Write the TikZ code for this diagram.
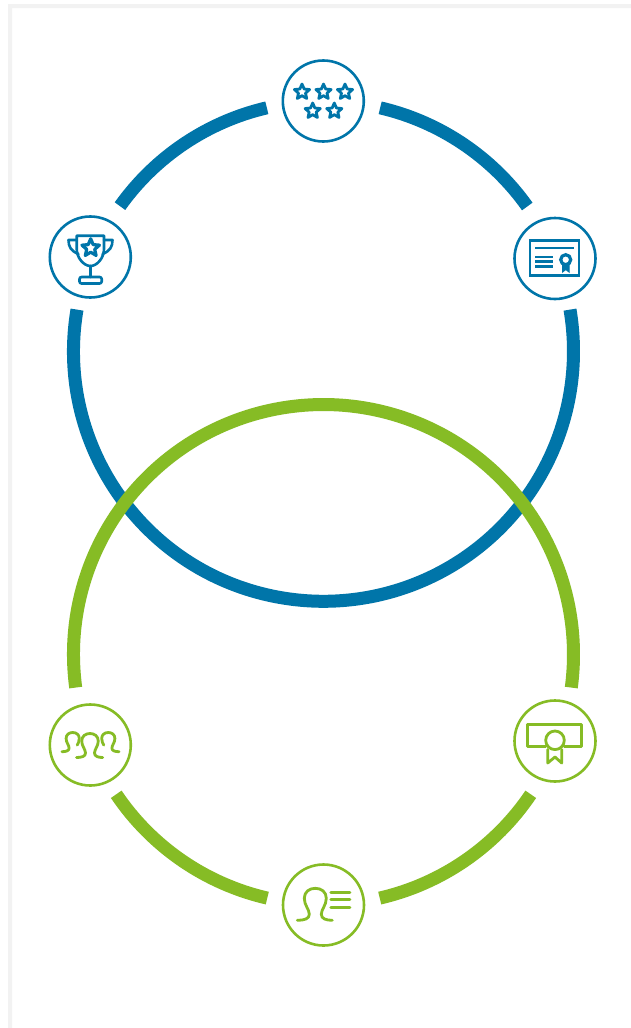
\documentclass[tikz,border=0pt]{standalone}
\definecolor{bluec}{HTML}{0075A9}
\definecolor{greenc}{HTML}{86BC25}
\definecolor{edgec}{HTML}{F2F2F2}
\tikzset{
  x=1pt,y=-1pt,
  ringline/.style={line width=13pt,line cap=butt},
  badge/.style={circle,draw=#1,fill=white,line width=2.6pt,minimum size=81pt,inner sep=0pt},
  ico/.style={line width=2.8pt,line join=round,line cap=round},
  starpic/.pic={\draw[ico] (-90:8) -- (-54:3.7) -- (-18:8) -- (18:3.7) -- (54:8) -- (90:3.7) -- (126:8) -- (162:3.7) -- (198:8) -- (234:3.7) -- cycle;},
  personpic/.pic={\draw[ico] (-18,32) .. controls (-11,32) and (-6,30.5) .. (-6,26) .. controls (-6,21) and (-11,17) .. (-11,10) .. controls (-11,3.5) and (-6,0) .. (0,0) .. controls (6,0) and (11,3.5) .. (11,10) .. controls (11,17) and (6,21) .. (6,26) .. controls (6,30.5) and (11,32) .. (17,32);},
  sidepic/.pic={\draw[ico] (-18,32) .. controls (-11,32) and (-6,30.5) .. (-6,26) .. controls (-6,21) and (-11,17) .. (-11,10) .. controls (-11,3.5) and (-6,0) .. (0,0) .. controls (6,0) and (11,3.5) .. (11,10) .. controls (11,15) and (9,18) .. (7.5,21);}
}
\begin{document}
\begin{tikzpicture}
\useasboundingbox (0,0) rectangle (631,1028);
\fill[white] (0,0) rectangle (631,1028);
\fill[edgec] (8,1028) -- (8,4) -- (631,4) -- (631,8) -- (12,8) -- (12,1028) -- cycle;
% blue ring
\coordinate (bc) at (323.5,351.3);
\draw[ringline,bluec] ([shift={(-144.5:250)}]bc) arc[start angle=-144.5,end angle=-103.1,radius=250];
\draw[ringline,bluec] ([shift={(-76.9:250)}]bc) arc[start angle=-76.9,end angle=-35.4,radius=250];
\draw[ringline,bluec] ([shift={(189.6:250)}]bc) arc[start angle=189.6,end angle=-9.6,radius=250];
% green ring
\coordinate (gc) at (323.5,654.5);
\draw[ringline,greenc] ([shift={(172.4:250)}]gc) arc[start angle=172.4,end angle=367.6,radius=250];
\draw[ringline,greenc] ([shift={(146:250)}]gc) arc[start angle=146,end angle=103,radius=250];
\draw[ringline,greenc] ([shift={(77:250)}]gc) arc[start angle=77,end angle=34,radius=250];
% badges
\node[badge=bluec] (stars) at (323.3,101) {};
\node[badge=bluec] (cup) at (90.3,257) {};
\node[badge=bluec] (cert) at (555,258.5) {};
\node[badge=greenc] (team) at (90.3,745) {};
\node[badge=greenc] (diploma) at (555,741) {};
\node[badge=greenc] (profile) at (323.5,905) {};
% stars icon
\foreach \px/\py in {302/92,323.5/92,345/92,312.7/111,334.3/111}
  \pic[bluec] at (\px,\py) {starpic};
% trophy icon
\begin{scope}[bluec,line width=2.6pt,line join=round,line cap=round]
\draw (76.7,235.7) -- (104,235.7) -- (104,249) .. controls (104,258) and (97,266) .. (90.5,266) .. controls (84,266) and (76.7,258) .. (76.7,249) -- cycle;
\draw (76.7,240) -- (68.5,240) .. controls (68.5,247) and (71,251) .. (78.5,254);
\draw (104,240) -- (112.5,240) .. controls (112.5,247) and (110,251) .. (102.5,254);
\draw (90.5,266) -- (90.5,277);
\draw[rounded corners=2pt] (79.5,277) rectangle (101.7,283.5);
\begin{scope}[shift={(90.7,248)}]
\draw[line width=3.2pt] (-90:9.2) -- (-54:4.2) -- (-18:9.2) -- (18:4.2) -- (54:9.2) -- (90:4.2) -- (126:9.2) -- (162:4.2) -- (198:9.2) -- (234:4.2) -- cycle;
\end{scope}
\end{scope}
% certificate icon
\begin{scope}[bluec,line width=2.8pt]
\draw (530,240.7) rectangle (579,275.7);
\draw (535,248) -- (574.3,248);
\draw (535,257) -- (553.3,257);
\draw (535,261.7) -- (553.3,261.7);
\draw (535,266.3) -- (553.3,266.3);
\draw[line width=3.2pt] (565.7,259.7) circle[radius=5];
\draw[fill=bluec,line width=1pt] (562.5,264) -- (562.5,272) -- (565.8,269.5) -- (569,272) -- (569,264) -- cycle;
\end{scope}
% team icon
\begin{scope}[greenc]
\pic[scale=0.6] at (72.7,732.5) {sidepic};
\pic[xscale=-0.6,yscale=0.6] at (108.3,732.5) {sidepic};
\pic[scale=0.75] at (90,733.5) {personpic};
\end{scope}
% diploma icon
\begin{scope}[greenc,line width=2.8pt,line join=round,line cap=round]
\draw (545.7,746.3) -- (527.7,746.3) -- (527.7,724.7) -- (581.7,724.7) -- (581.7,746.3) -- (564.3,746.3);
\draw (555,740.3) circle[radius=9.3];
\draw (547.7,749.5) -- (547.7,763) -- (555,757) -- (561.7,763) -- (561.7,749.5);
\end{scope}
% profile icon
\begin{scope}[greenc]
\pic at (315.3,888.3) {personpic};
\draw[ico] (330.8,892.3) -- (350,892.3);
\draw[ico] (330.8,899.5) -- (350,899.5);
\draw[ico] (330.8,907.3) -- (350,907.3);
\end{scope}
\end{tikzpicture}
\end{document}
